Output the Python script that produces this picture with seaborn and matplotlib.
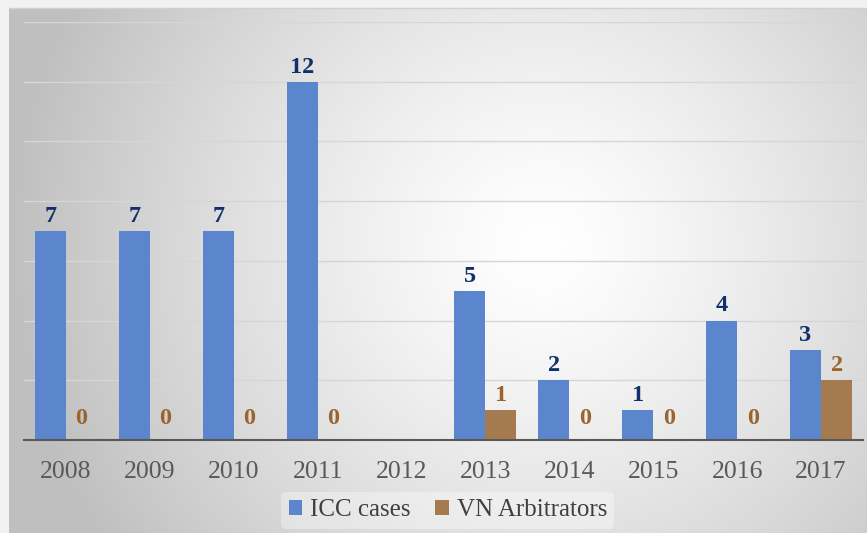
import numpy as np
import pandas as pd
import matplotlib
matplotlib.use("Agg")
import matplotlib.pyplot as plt
import seaborn as sns

years = ["2008", "2009", "2010", "2011", "2012", "2013", "2014", "2015", "2016", "2017"]
icc_cases = [7, 7, 7, 12, np.nan, 5, 2, 1, 4, 3]
vn_arbitrators = [0, 0, 0, 0, np.nan, 1, 0, 0, 0, 2]
series_names = ["ICC cases", "VN Arbitrators"]

df = pd.DataFrame({
    "Year": years * 2,
    "Value": icc_cases + vn_arbitrators,
    "Series": [series_names[0]] * len(years) + [series_names[1]] * len(years),
})

sns.set_theme(style="white")
plt.rcParams["font.family"] = ["Liberation Serif", "DejaVu Serif"]

W, H = 867, 533
fig = plt.figure(figsize=(W / 100, H / 100), dpi=100)
fig.patch.set_facecolor("#f2f2f2")

# background frame with radial gradient
bg = fig.add_axes([9 / W, 0, 1 - 9 / W, (H - 8) / H])
bg.set_axis_off()
ny, nx = 300, 500
yy, xx = np.mgrid[0:ny, 0:nx]
cx, cy = 0.62 * nx, 0.45 * ny
r = np.sqrt(((xx - cx) / nx) ** 2 + ((yy - cy) / ny * 0.62) ** 2)
r = np.clip(r / 0.62, 0, 1)
val = 1.0 - 0.25 * r ** 1.3
img = np.dstack([val, val, val])
bg.imshow(img, aspect="auto", extent=[0, 1, 0, 1], origin="upper")
bg.set_xlim(0, 1)
bg.set_ylim(0, 1)
fig.add_artist(plt.Line2D([9 / W, 1], [(H - 8) / H, (H - 8) / H], color="#d0d0d0", lw=1))

ax = fig.add_axes([24 / W, 93 / H, (863 - 24) / W, (440 - 22) / H])
ax.patch.set_alpha(0)

palette = {"ICC cases": "#5b85cc", "VN Arbitrators": "#a57a4f"}
sns.barplot(data=df, x="Year", y="Value", hue="Series", palette=palette,
            width=0.74, ax=ax, saturation=1, order=years, hue_order=series_names,
            edgecolor="none", legend=True)

ax.set_ylim(0, 14)
ax.set_xlim(-0.5, 9.5)
ax.set_yticks(range(0, 15, 2))
ax.yaxis.grid(True, color="#d6d6d6", lw=1)
ax.set_axisbelow(True)
ax.tick_params(axis="y", left=False, labelleft=False)
ax.tick_params(axis="x", bottom=False, labelsize=18.5, colors="#595959", pad=9)
for s in ["top", "right", "left"]:
    ax.spines[s].set_visible(False)
ax.spines["bottom"].set_color("#595959")
ax.spines["bottom"].set_linewidth(1.5)
ax.set_xlabel("")
ax.set_ylabel("")

label_colors = ["#10306a", "#9c642c"]
for cont, col in zip(ax.containers, label_colors):
    for bar, v in zip(cont.patches, cont.datavalues):
        if np.isnan(v):
            continue
        off = 8 if v == 0 else 3
        ax.annotate(f"{v:.0f}", (bar.get_x() + bar.get_width() / 2, v),
                    xytext=(0, off), textcoords="offset points",
                    ha="center", va="bottom", fontsize=17.5, fontweight="bold",
                    color=col)

leg = ax.legend(loc="center", bbox_to_anchor=(0.505, -0.168), ncol=2, frameon=True,
                fontsize=18, handlelength=0.55, handleheight=0.55, handletextpad=0.3,
                columnspacing=1.0, borderpad=0.3)
leg.get_frame().set_facecolor("white")
leg.get_frame().set_alpha(0.35)
leg.get_frame().set_edgecolor("none")
for t in leg.get_texts():
    t.set_color("#404040")

fig.savefig("out.png", dpi=100)
